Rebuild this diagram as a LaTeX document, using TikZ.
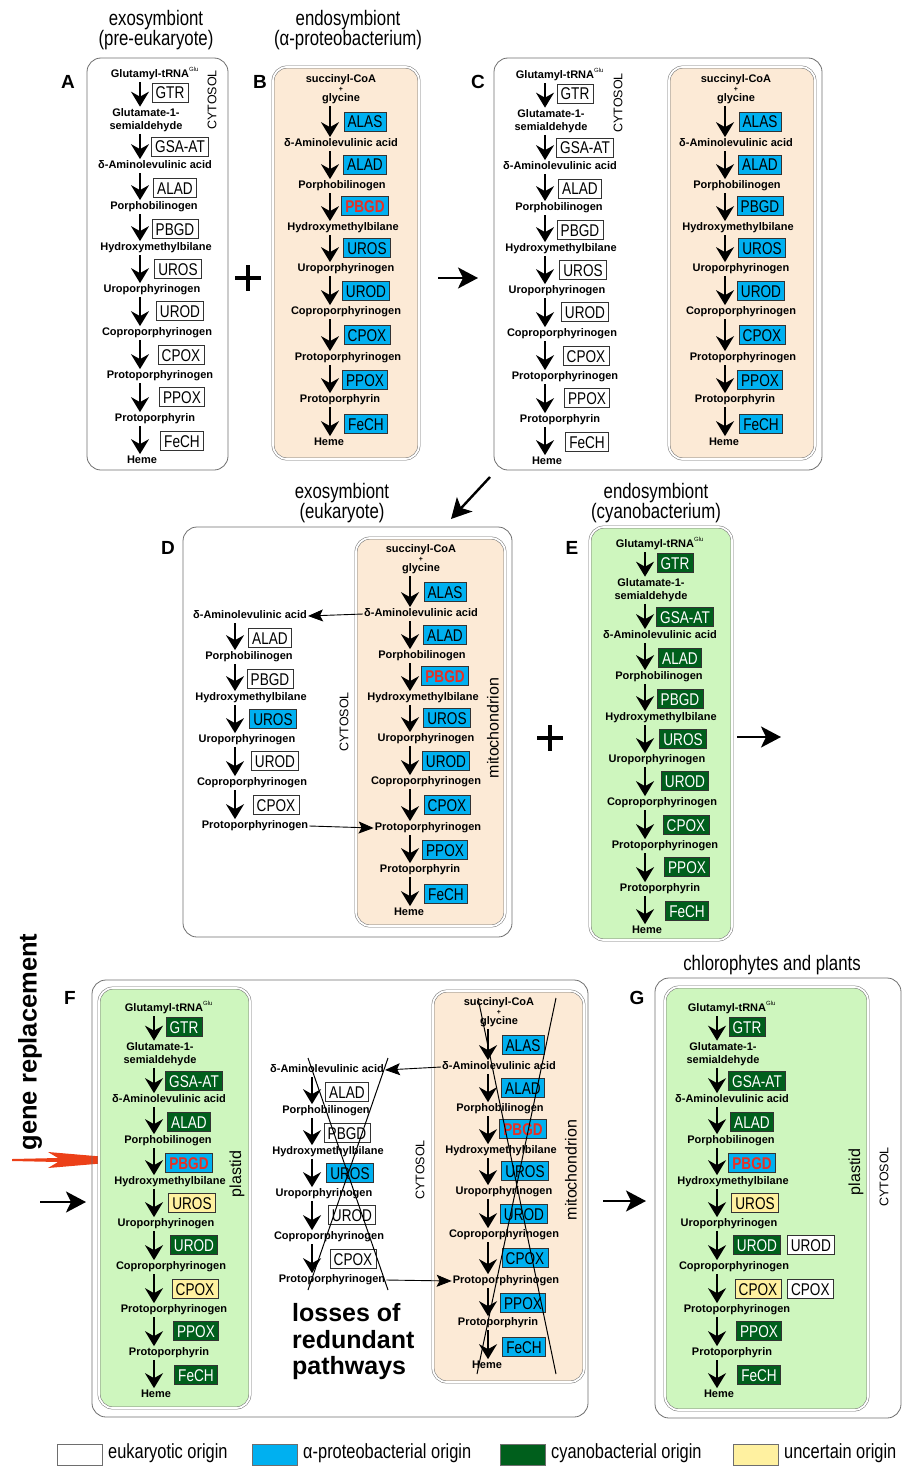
\documentclass[tikz,border=0pt]{standalone}
\usepackage{fontspec}
\setmainfont{Liberation Sans}
\setsansfont{Liberation Sans}
\newfontfamily\narrowfont[FakeStretch=0.8]{Liberation Sans}
\usetikzlibrary{arrows.meta}
\definecolor{mitofill}{RGB}{252,234,214}
\definecolor{plastfill}{RGB}{206,246,190}
\definecolor{cyanblue}{RGB}{0,176,240}
\definecolor{darkgreen}{RGB}{0,95,28}
\definecolor{paleyellow}{RGB}{255,241,160}
\definecolor{pbgdred}{RGB}{232,48,36}
\definecolor{redarrow}{RGB}{236,64,24}
\definecolor{boxgray}{RGB}{110,110,110}
\newcommand\metfont{\fontsize{11}{13}\selectfont\bfseries}
\newcommand\enzfont{\narrowfont\fontsize{17}{17}\selectfont}
\newcommand\titfont{\narrowfont\fontsize{21}{20}\selectfont}
% central part of the glutamate pathway (delta-ALA ... protoporphyrinogen)
\newcommand\glumid[1]{%
 \node[met] (#1m2) at (15,166) {δ-Aminolevulinic acid};
 \node[enz,kALAD] (#1e3) at (35,188) {ALAD};
 \node[met] (#1m3) at (14,207) {Porphobilinogen};
 \node[enz,kPBGD] (#1e4) at (35,229) {PBGD};
 \node[met] (#1m4) at (16,248) {Hydroxymethylbilane};
 \node[enz,kUROS] (#1e5) at (38,269) {UROS};
 \node[met] (#1m5) at (12,290) {Uroporphyrinogen};
 \node[enz,kUROD] (#1e6) at (40,311) {UROD};
 \node[met] (#1m6) at (17,333) {Coproporphyrinogen};
 \node[enz,kCPOX] (#1e7) at (41,355) {CPOX};
 \node[met] (#1m7) at (20,376) {Protoporphyrinogen};
 \foreach \a/\b in {2/3,3/4,4/5,5/6,6/7} {\draw[parr] (#1m\a.south -| #1ax) -- (#1m\b.north -| #1ax);}
}
\newcommand\glupart[1]{%
 \coordinate (#1ax) at (0,0);
 \glumid{#1}
}
\newcommand\glufull[1]{%
 \coordinate (#1ax) at (0,0);
 \node[met] (#1m0) at (10,75) {Glutamyl-tRNA\rlap{\raisebox{6pt}{\fontsize{6}{6}\selectfont\mdseries Glu}}};
 \node[enz,kGTR] (#1e1) at (30,93) {GTR};
 \node[metml] (#1m1) at (6,120) {Glutamate-1-\\semialdehyde};
 \node[enz,kGSA] (#1e2) at (40,147) {GSA-AT};
 \glumid{#1}
 \node[enz,kPPOX] (#1e8) at (42,397) {PPOX};
 \node[met] (#1m8) at (15,419) {Protoporphyrin};
 \node[enz,kFECH] (#1e9) at (42,441) {FeCH};
 \node[met] (#1m9) at (2,461) {Heme};
 \foreach \a/\b in {0/1,1/2,7/8,8/9} {\draw[parr] (#1m\a.south -| #1ax) -- (#1m\b.north -| #1ax);}
}
% mitochondrial (succinyl-CoA + glycine) pathway
\newcommand\mitopath[1]{%
 \coordinate (#1ax) at (0,0);
 \node[metml,font={\fontsize{11}{9.5}\selectfont\bfseries}] (#1s0) at (11,89) {succinyl-CoA\\{\fontsize{7}{7}\selectfont +}\\glycine};
 \node[enz,eblue] (#1a1) at (35,122) {ALAS};
 \node[met] (#1s1) at (11,144) {δ-Aminolevulinic acid};
 \node[enz,eblue] (#1a2) at (35,165) {ALAD};
 \node[met] (#1s2) at (12,186) {Porphobilinogen};
 \node[enz,kmPBGD] (#1a3) at (35,206) {PBGD};
 \node[met] (#1s3) at (13,228) {Hydroxymethylbilane};
 \node[enz,eblue] (#1a4) at (37,248) {UROS};
 \node[met] (#1s4) at (16,269) {Uroporphyrinogen};
 \node[enz,eblue] (#1a5) at (36,291) {UROD};
 \node[met] (#1s5) at (16,312) {Coproporphyrinogen};
 \node[enz,eblue] (#1a6) at (37,335) {CPOX};
 \node[met] (#1s6) at (18,358) {Protoporphyrinogen};
 \node[enz,eblue] (#1a7) at (35,380) {PPOX};
 \node[met] (#1s7) at (10,400) {Protoporphyrin};
 \node[enz,eblue] (#1a8) at (36,424) {FeCH};
 \node[met] (#1s8) at (-1,443) {Heme};
 \foreach \a/\b in {0/1,1/2,2/3,3/4,4/5,5/6,6/7,7/8} {\draw[parr] (#1s\a.south -| #1ax) -- (#1s\b.north -| #1ax);}
}
\begin{document}
\begin{tikzpicture}[x=1pt,y=-1pt,
 met/.style={font=\metfont, inner sep=1pt, text height=8pt, text depth=2.3pt},
 metml/.style={font=\metfont, inner sep=1pt, align=center},
 enz/.style={draw=black!80, line width=0.6pt, font=\enzfont, inner xsep=3.6pt, inner ysep=3.4pt, text height=12pt, text depth=0pt},
 ewhite/.style={fill=white},
 eblue/.style={fill=cyanblue},
 egreen/.style={fill=darkgreen,text=white},
 eyellow/.style={fill=paleyellow},
 ered/.style={fill=cyanblue,text=pbgdred,font=\enzfont\bfseries},
 kGTR/.style={ewhite}, kGSA/.style={ewhite}, kALAD/.style={ewhite},
 kPBGD/.style={ewhite}, kUROS/.style={ewhite}, kUROD/.style={ewhite},
 kCPOX/.style={ewhite}, kPPOX/.style={ewhite}, kFECH/.style={ewhite},
 kmPBGD/.style={ered},
 allgreen/.style={kGTR/.style={egreen}, kGSA/.style={egreen}, kALAD/.style={egreen},
   kPBGD/.style={egreen}, kUROS/.style={egreen}, kUROD/.style={egreen},
   kCPOX/.style={egreen}, kPPOX/.style={egreen}, kFECH/.style={egreen}},
 parr/.style={line width=2pt, -{Stealth[length=15pt,width=18pt,inset=5pt]}, shorten <=1pt, shorten >=0.5pt},
 harr/.style={line width=0.9pt, -{Stealth[length=15pt,width=12pt,inset=3pt]}},
 bigarr/.style={line width=2.4pt, -{Stealth[length=20pt,width=21pt,inset=5pt]}},
 outerbox/.style={draw=boxgray, line width=0.8pt, rounded corners=14pt},
 dbox/.style={draw=boxgray, line width=0.5pt, double=white, double distance=1.8pt, rounded corners=14pt},
 vlab/.style={rotate=90, font=\fontsize{12.5}{12.5}\selectfont, inner sep=0pt},
 vlabo/.style={rotate=90, font=\fontsize{16}{16}\selectfont, inner sep=0pt},
 plab/.style={font=\fontsize{19}{19}\selectfont\bfseries, inner sep=0pt},
 title/.style={font=\titfont, align=center, inner sep=0pt},
 legtext/.style={font=\narrowfont\fontsize{20.5}{20}\selectfont, inner sep=0pt, anchor=west},
 legbox/.style={draw=boxgray, line width=0.6pt, minimum width=45pt, minimum height=21pt, inner sep=0pt},
 plus/.style={line width=4.5pt},
 xline/.style={line width=1pt}
]
\useasboundingbox (0,0) rectangle (905,1466);

% ---------- A ----------
\node[title] (tA) at (156,30) {exosymbiont\\(pre-eukaryote)};
\draw[outerbox] (87,58) rectangle (228,470);
\node[plab] (lA) at (68,82) {A};
\begin{scope}[shift={(140,0)}] \glufull{A} \end{scope}
\node[vlab] (cytA) at (212,100) {CYTOSOL};

% ---------- B ----------
\node[title] (tB) at (348,30) {endosymbiont\\(α-proteobacterium)};
\draw[dbox, fill=mitofill] (273,67) rectangle (419,459);
\node[plab] (lB) at (260,82) {B};
\begin{scope}[shift={(330,0)}] \mitopath{B} \end{scope}

\draw[plus] (235,278) -- (261,278) (248,265) -- (248,291);
\coordinate (arrC1) at (438,278); \coordinate (arrC2) at (478,278);
\draw[bigarr] (arrC1) -- (arrC2);

% ---------- C ----------
\draw[outerbox] (494,58) rectangle (822,470);
\node[plab] (lC) at (478,82) {C};
\begin{scope}[shift={(545,1)}] \glufull{Cc} \end{scope}
\node[vlab] (cytC) at (618,103) {CYTOSOL};
\draw[dbox, fill=mitofill] (669,67) rectangle (815,459);
\begin{scope}[shift={(725,0)}, kmPBGD/.style={eblue}] \mitopath{Cm} \end{scope}

\coordinate (dg1) at (490,477); \coordinate (dg2) at (451,519);
\draw[bigarr] (dg1) -- (dg2);

% ---------- D ----------
\node[title] (tD) at (342,503) {exosymbiont\\(eukaryote)};
\draw[outerbox] (183,527) rectangle (512,937);
\node[plab] (lD) at (168,548) {D};
\draw[dbox, fill=mitofill] (356,538) rectangle (505,926);
\begin{scope}[shift={(410,470)}] \mitopath{Dm} \end{scope}
\begin{scope}[shift={(235,450)}, kUROS/.style={eblue}] \glupart{Dc} \end{scope}
\node[vlab] (cytD) at (344,722) {CYTOSOL};
\node[vlabo] (mitD) at (493,728) {mitochondrion};
\draw[harr] (Dms1.west) -- (Dcm2.east);
\draw[harr] (Dcm7.east) -- (Dms6.west);

\draw[plus] (537,738) -- (563,738) (550,725) -- (550,751);

% ---------- E ----------
\node[title] (tE) at (656,503) {endosymbiont\\(cyanobacterium)};
\draw[dbox, fill=plastfill] (590,527) rectangle (732,940);
\node[plab] (lE) at (572,548) {E};
\begin{scope}[shift={(645,470)}, allgreen] \glufull{E} \end{scope}
\coordinate (ea1) at (737,737); \coordinate (ea2) at (781,737);
\draw[bigarr] (ea1) -- (ea2);

% ---------- F ----------
\node[rotate=90, font=\fontsize{25.5}{25.5}\selectfont\bfseries, inner sep=0pt] (gr) at (30,1042) {gene replacement};
\fill[redarrow] (12,1159) -- (58,1158) -- (48,1152) -- (142,1160) -- (48,1168) -- (58,1162) -- (12,1161) -- cycle;
\coordinate (fa1) at (40,1202); \coordinate (fa2) at (86,1202);
\draw[bigarr] (fa1) -- (fa2);
\draw[outerbox] (92,980) rectangle (588,1417);
\node[plab] (lF) at (70,998) {F};
\draw[dbox, fill=plastfill] (99,988) rectangle (250,1408);
\begin{scope}[shift={(154,934)}, allgreen, kPBGD/.style={ered}, kUROS/.style={eyellow}, kCPOX/.style={eyellow}] \glufull{Fp} \end{scope}
\node[vlabo] (plF) at (237,1174) {plastid};
\begin{scope}[shift={(312,904)}, kUROS/.style={eblue}] \glupart{Fc} \end{scope}
\node[vlab] (cytF) at (420,1170) {CYTOSOL};
\draw[dbox, fill=mitofill] (433,991) rectangle (584,1382);
\begin{scope}[shift={(488,923)}] \mitopath{Fm} \end{scope}
\node[vlabo] (mitF) at (571,1170) {mitochondrion};
\draw[harr] (Fms1.west) -- (Fcm2.east);
\draw[harr] (Fcm7.east) -- (Fms6.west);
\coordinate (xa1) at (308,1058); \coordinate (xa2) at (388,1290);
\coordinate (xa3) at (388,1058); \coordinate (xa4) at (308,1290);
\draw[xline] (xa1) -- (xa2) (xa3) -- (xa4);
\coordinate (xb1) at (478,998); \coordinate (xb2) at (556,1374);
\coordinate (xb3) at (556,998); \coordinate (xb4) at (477,1374);
\draw[xline] (xb1) -- (xb2) (xb3) -- (xb4);
\node[font=\fontsize{25}{26.5}\selectfont\bfseries, align=left, anchor=west, inner sep=0pt] (loss) at (292,1342) {losses of\\redundant\\pathways};
\coordinate (ga1) at (603,1201); \coordinate (ga2) at (646,1201);
\draw[bigarr] (ga1) -- (ga2);

% ---------- G ----------
\node[title] (tG) at (772,965) {chlorophytes and plants};
\draw[outerbox] (655,978) rectangle (901,1418);
\node[plab] (lG) at (637,998) {G};
\draw[dbox, fill=plastfill] (665,987) rectangle (868,1410);
\begin{scope}[shift={(717,934)}, allgreen, kPBGD/.style={ered}, kUROS/.style={eyellow}, kCPOX/.style={eyellow}] \glufull{G} \end{scope}
\node[enz,ewhite,anchor=west] (Ge6b) at ([xshift=6pt]Ge6.east) {UROD};
\node[enz,ewhite,anchor=west] (Ge7b) at ([xshift=6pt]Ge7.east) {CPOX};
\node[vlabo] (plG) at (856,1172) {plastid};
\node[vlab] (cytG) at (884,1177) {CYTOSOL};

% ---------- legend ----------
\node[legbox, fill=white] (L1) at (80,1454.5) {};
\node[legtext] (L1t) at (108,1453) {eukaryotic origin};
\node[legbox, fill=cyanblue] (L2) at (275,1454.5) {};
\node[legtext] (L2t) at (303,1453) {α-proteobacterial origin};
\node[legbox, fill=darkgreen] (L3) at (523,1454.5) {};
\node[legtext] (L3t) at (551,1453) {cyanobacterial origin};
\node[legbox, fill=paleyellow] (L4) at (756,1454.5) {};
\node[legtext] (L4t) at (784,1453) {uncertain origin};
\end{tikzpicture}
\end{document}
